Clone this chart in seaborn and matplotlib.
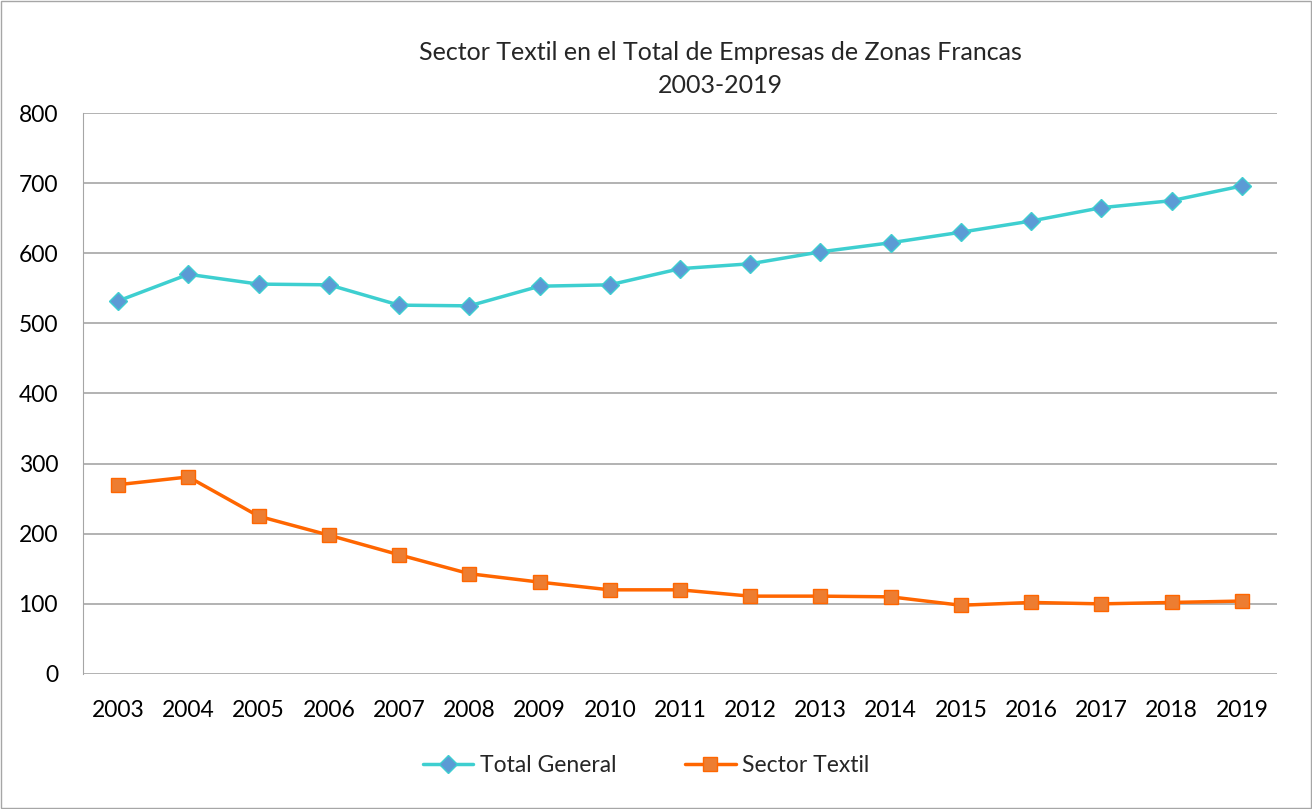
import matplotlib
matplotlib.use("Agg")
import matplotlib.pyplot as plt
import seaborn as sns
import pandas as pd

# data
years = [str(y) for y in range(2003, 2020)]
total_general = [532, 570, 556, 555, 526, 525, 553, 555, 578, 585, 602, 615, 630, 646, 665, 675, 696]
sector_textil = [270, 281, 225, 198, 170, 143, 131, 120, 120, 111, 111, 110, 98, 102, 100, 102, 104]
yticks = [0, 100, 200, 300, 400, 500, 600, 700, 800]

df = pd.DataFrame({"year": years * 2,
                   "value": total_general + sector_textil,
                   "serie": ["Total General"] * len(years) + ["Sector Textil"] * len(years)})

sns.set_style("white")
plt.rcParams['font.family'] = ['Lato', 'DejaVu Sans']

fig = plt.figure(figsize=(13.12, 8.09), dpi=100)
ax = fig.add_axes([0.0633, 0.1669, 0.91, 0.6934])

sns.lineplot(data=df[df.serie == "Total General"], x="year", y="value", ax=ax,
             color="#3ECFD0", lw=2.5, marker="D", markersize=9,
             markerfacecolor="#5B9BD5", markeredgecolor="#3ECFD0", markeredgewidth=1,
             label="Total General", sort=False)
sns.lineplot(data=df[df.serie == "Sector Textil"], x="year", y="value", ax=ax,
             color="#FF6600", lw=2.5, marker="s", markersize=10,
             markerfacecolor="#ED7D31", markeredgecolor="#FF6600", markeredgewidth=1,
             label="Sector Textil", sort=False)

ax.set_xlim(-0.5, len(years) - 0.5)
ax.set_ylim(0, 800)
ax.set_yticks(yticks)
ax.yaxis.grid(True, color="#A6A6A6", lw=1.2)
ax.set_axisbelow(True)
for s in ["top", "right", "bottom"]:
    ax.spines[s].set_visible(False)
ax.spines["left"].set_color("#A6A6A6")
ax.tick_params(axis="both", labelsize=16.5, colors="black", length=0)
ax.tick_params(axis="x", pad=19)
ax.tick_params(axis="y", pad=18)
ax.set_xlabel("")
ax.set_ylabel("")

fig.text(0.549, 0.935, "Sector Textil en el Total de Empresas de Zonas Francas",
         ha="center", va="center", fontsize=18)
fig.text(0.549, 0.894, "2003-2019", ha="center", va="center", fontsize=18)

ax.legend(loc="center", bbox_to_anchor=(0.4925, 0.054), bbox_transform=fig.transFigure,
          ncol=2, frameon=False, fontsize=16.5, columnspacing=3.0, handlelength=2.2,
          handletextpad=0.3)

fig.patches.append(plt.Rectangle((0.001, 0.001), 0.998, 0.998, transform=fig.transFigure,
                                 fill=False, edgecolor="#A6A6A6", lw=1))

fig.savefig("out.png", dpi=100)
